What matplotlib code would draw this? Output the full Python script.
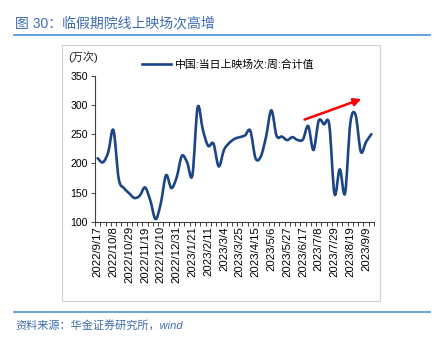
"""图30 临假期院线上映场次高增 — weekly cinema screenings, smoothed line."""

import matplotlib
matplotlib.use("Agg")
import matplotlib.pyplot as plt
import numpy as np
from matplotlib.lines import Line2D
from matplotlib.patches import PathPatch, Rectangle
from matplotlib.path import Path

plt.rcParams["font.family"] = ["Liberation Sans", "Noto Sans CJK SC", "DejaVu Sans"]

# --- Data (weekly, 2022/9/17 .. 2023/9/16, 万次) ---
tick_labels = [
    "2022/9/17", "2022/10/8", "2022/10/29", "2022/11/19", "2022/12/10",
    "2022/12/31", "2023/1/21", "2023/2/11", "2023/3/4", "2023/3/25",
    "2023/4/15", "2023/5/6", "2023/5/27", "2023/6/17", "2023/7/8",
    "2023/7/29", "2023/8/19", "2023/9/9",
]
screenings = [
    209, 202, 219, 257, 174, 158, 149, 141, 145, 159,
    137, 105, 132, 180, 158, 176, 213, 202, 180, 296,
    257, 230, 234, 195, 223, 235, 242, 245, 248, 256,
    209, 212, 246, 291, 247, 246, 240, 245, 240, 241,
    264, 223, 273, 267, 266, 148, 190, 149, 269, 283,
    220, 237, 250,
]
series_name = "中国:当日上映场次:周:合计值"
arrow_from = (39.3, 275)   # (week index, value)
arrow_to = (50.1, 310)

NAVY = "#1c4587"
TITLE_BLUE = "#3d6bb3"
RULE_BLUE = "#5b9bd5"

W, H = 436, 339
fig = plt.figure(figsize=(W / 100, H / 100), dpi=100)
fig.patch.set_facecolor("white")

# header / footer
fig.text(15 / W, 1 - 24 / H, "图 30：临假期院线上映场次高增",
         fontsize=10, color=TITLE_BLUE, va="center", ha="left")
fig.add_artist(Line2D([14 / W, 430 / W], [1 - 34.5 / H] * 2,
                      color=RULE_BLUE, lw=1.3))
fig.add_artist(Rectangle((62 / W, 1 - 301 / H), (380 - 62) / W, (301 - 45) / H,
                         transform=fig.transFigure, fill=False,
                         edgecolor="#d0d0d0", lw=0.8))
fig.add_artist(Line2D([14 / W, 430 / W], [1 - 312 / H] * 2,
                      color=RULE_BLUE, lw=1.3))
fig.text(15 / W, 1 - 325 / H, "资料来源：华金证券研究所，wind",
         fontsize=8, color=TITLE_BLUE, style="italic", va="center", ha="left")

# --- Axes ---
ax = fig.add_axes([95 / W, 1 - 222 / H, 279 / W, (222 - 75.7) / H])
x = np.arange(len(screenings), dtype=float)
y = np.array(screenings, dtype=float)

# smoothed line (Catmull-Rom -> cubic Bezier), like Excel's smooth line
pts = np.column_stack([x, y])
ext = np.vstack([pts[0], pts, pts[-1]])
verts = [pts[0]]
codes = [Path.MOVETO]
for i in range(len(pts) - 1):
    p0, p1, p2, p3 = ext[i], ext[i + 1], ext[i + 2], ext[i + 3]
    verts += [p1 + (p2 - p0) / 6, p2 - (p3 - p1) / 6, p2]
    codes += [Path.CURVE4] * 3
ax.add_patch(PathPatch(Path(verts, codes), fill=False, edgecolor=NAVY,
                       lw=1.9, capstyle="round", joinstyle="round"))

ax.annotate("", xy=arrow_to, xytext=arrow_from,
            arrowprops=dict(arrowstyle="-|>", color="#ff0000", lw=1.8,
                            mutation_scale=11, shrinkA=0, shrinkB=0))

ax.set_xlim(-0.5, len(screenings) - 0.5)
ax.set_ylim(100, 350)
ax.set_yticks([100, 150, 200, 250, 300, 350])
ax.set_xticks(np.arange(0, len(screenings), 3)[:len(tick_labels)])
ax.set_xticklabels(tick_labels, rotation=90, fontsize=8.2)
ax.set_xticks(np.arange(-0.5, len(screenings), 1), minor=True)
ax.tick_params(axis="x", which="major", length=0, pad=3)
ax.tick_params(axis="x", which="minor", length=3, width=0.7, color="#404040")
ax.tick_params(axis="y", length=3, width=0.7, color="#404040", labelsize=7.6, pad=2)

for side in ("top", "right"):
    ax.spines[side].set_visible(False)
for side in ("left", "bottom"):
    ax.spines[side].set_color("#404040")
    ax.spines[side].set_linewidth(0.8)

fig.text(83 / W, 1 - 57 / H, "(万次)", fontsize=8, ha="center", va="center",
         color="#222222")

handle = Line2D([], [], color=NAVY, lw=1.9)
ax.legend(handles=[handle], labels=[series_name], loc="center left",
          bbox_to_anchor=(142 / W, 1 - 65 / H), bbox_transform=fig.transFigure,
          frameon=False, fontsize=7.8, handlelength=2.7, handletextpad=0.35,
          borderpad=0, borderaxespad=0)

fig.savefig("out.png", dpi=100, facecolor="white")
plt.close(fig)
